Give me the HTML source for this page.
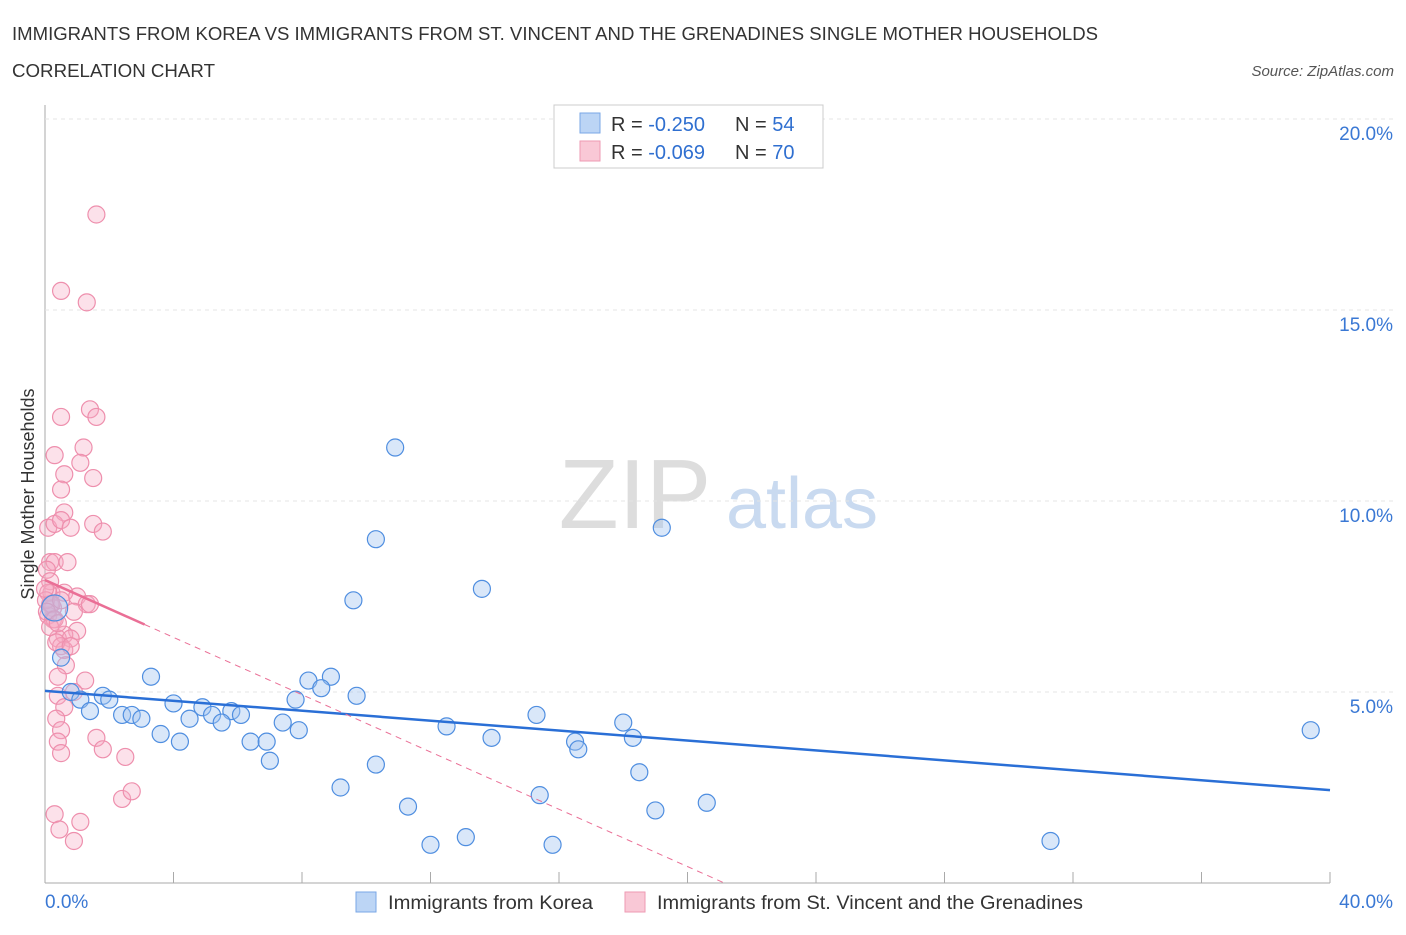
<!DOCTYPE html>
<html><head><meta charset="utf-8"><style>
body{margin:0;background:#fff;font-family:"Liberation Sans",sans-serif;}
svg text{font-family:"Liberation Sans",sans-serif;}
</style></head><body>
<svg id="chart" width="1406" height="930">
<text x="12" y="40" font-size="18" fill="#333" textLength="1086" lengthAdjust="spacingAndGlyphs">IMMIGRANTS FROM KOREA VS IMMIGRANTS FROM ST. VINCENT AND THE GRENADINES SINGLE MOTHER HOUSEHOLDS</text>
<text x="12" y="77" font-size="18" fill="#333" textLength="203" lengthAdjust="spacingAndGlyphs">CORRELATION CHART</text>
<text x="1394" y="76" font-size="15" font-style="italic" fill="#555" text-anchor="end">Source: ZipAtlas.com</text>
<text x="635" y="528" font-size="98" font-family="Liberation Serif" fill="#ddd" text-anchor="middle">ZIP</text>
<text x="802" y="528" font-size="72" fill="#c9daf0" text-anchor="middle">atlas</text>
<g id="grid"></g>
<g id="marks"></g>
<text transform="translate(34,494) rotate(-90)" font-size="18" fill="#333" text-anchor="middle">Single Mother Households</text>
<g>
<rect x="554" y="105" width="269" height="63" fill="#fff" stroke="#ccc"/>
<rect x="580" y="113" width="20" height="20" fill="#bcd5f5" stroke="#7aa7e6"/>
<rect x="580" y="141" width="20" height="20" fill="#f9c8d6" stroke="#ee9ab3"/>
<text x="611" y="131" font-size="20" fill="#333">R = <tspan fill="#2f6fd0">-0.250</tspan></text>
<text x="735" y="131" font-size="20" fill="#333">N = <tspan fill="#2f6fd0">54</tspan></text>
<text x="611" y="159" font-size="20" fill="#333">R = <tspan fill="#2f6fd0">-0.069</tspan></text>
<text x="735" y="159" font-size="20" fill="#333">N = <tspan fill="#2f6fd0">70</tspan></text>
</g>
<g>
<rect x="356" y="892" width="20" height="20" fill="#bcd5f5" stroke="#7aa7e6"/>
<text x="388" y="909" font-size="19" fill="#333" textLength="205" lengthAdjust="spacingAndGlyphs">Immigrants from Korea</text>
<rect x="625" y="892" width="20" height="20" fill="#f9c8d6" stroke="#ee9ab3"/>
<text x="657" y="909" font-size="19" fill="#333" textLength="426" lengthAdjust="spacingAndGlyphs">Immigrants from St. Vincent and the Grenadines</text>
</g>
</svg>
<script>
const xTicks=[0,40];
const yTicks=[5,10,15,20];
const koreaX=[10.9,10.3,19.2,9.6,13.6,3.3,8.2,8.9,8.6,9.7,7.8,1.8,2.0,0.8,1.1,1.4,4.0,4.9,5.8,2.4,2.7,3.0,4.5,5.2,5.5,6.1,7.4,7.9,3.6,4.2,6.4,6.9,12.5,15.3,18.0,13.9,16.5,16.6,18.3,7.0,10.3,18.5,9.2,15.4,11.3,20.6,19.0,12.0,13.1,15.8,31.3,39.4,0.3,0.5];
const koreaY=[11.4,9.0,9.3,7.4,7.7,5.4,5.3,5.4,5.1,4.9,4.8,4.9,4.8,5.0,4.8,4.5,4.7,4.6,4.5,4.4,4.4,4.3,4.3,4.4,4.2,4.4,4.2,4.0,3.9,3.7,3.7,3.7,4.1,4.4,4.2,3.8,3.7,3.5,3.8,3.2,3.1,2.9,2.5,2.3,2.0,2.1,1.9,1.0,1.2,1.0,1.1,4.0,7.2,5.9];
const vincentX=[1.6,0.5,1.3,1.4,1.6,0.5,1.2,0.3,1.1,0.6,1.5,0.5,0.6,0.1,0.3,0.5,1.5,0.8,1.8,0.16,0.3,0.7,0.06,0.16,0.2,0.6,1.0,1.3,1.4,0.16,0.25,0.9,0.1,0.25,1.0,0.6,0.4,0.8,0.5,0.6,0.65,0.4,1.25,0.9,0.4,0.6,0.35,0.5,0.4,1.6,1.8,2.5,0.5,2.4,2.7,0.3,1.1,0.45,0.9,0.1,0.03,0.2,0.06,0.3,0.16,0,0.5,0.4,0.35,0.8];
const vincentY=[17.5,15.5,15.2,12.4,12.2,12.2,11.4,11.2,11.0,10.7,10.6,10.3,9.7,9.3,9.4,9.5,9.4,9.3,9.2,8.4,8.4,8.4,8.2,7.9,7.6,7.6,7.5,7.3,7.3,7.3,7.2,7.1,7.0,6.9,6.6,6.5,6.4,6.4,6.2,6.1,5.7,5.4,5.3,5.0,4.9,4.6,4.3,4.0,3.7,3.8,3.5,3.3,3.4,2.2,2.4,1.8,1.6,1.4,1.1,7.6,7.4,7.3,7.1,6.9,6.7,7.7,7.4,6.8,6.3,6.2];
const koreaFit=[5.03,-0.065];
const vincentFit=[7.93,-0.375];
const NS='http://www.w3.org/2000/svg';
const X=v=>45+v/40*1285, Y=v=>883-v/5*191;
function mk(t,a,p){const e=document.createElementNS(NS,t);for(const k in a)e.setAttribute(k,a[k]);document.getElementById(p).appendChild(e);return e;}
mk('line',{x1:45,y1:105,x2:45,y2:883,stroke:'#aaa'},'grid');
mk('line',{x1:45,y1:883,x2:1330,y2:883,stroke:'#aaa'},'grid');
for(let i=1;i<=10;i++){mk('line',{x1:45+i*128.5,y1:883,x2:45+i*128.5,y2:872,stroke:'#aaa'},'grid');}
yTicks.forEach(v=>{
const l=mk('line',{x1:45,y1:Y(v),x2:1394,y2:Y(v),stroke:'#e4e4e4','stroke-dasharray':'4,4'},'grid');


const t=mk('text',{x:1393,y:Y(v)+21,'font-size':19,fill:'#3a78d4','text-anchor':'end'},'grid');t.textContent=v.toFixed(1)+'%';


});
xTicks.forEach((v,i)=>{const t=mk('text',{x:i?1393:45,y:908,'font-size':19,fill:'#3a78d4','text-anchor':i?'end':'start'},'grid');t.textContent=v.toFixed(1)+'%';

});
vincentX.forEach((x,i)=>{const c=mk('circle',{cx:X(x),cy:Y(vincentY[i]),r:8.5,fill:'rgba(246,170,195,0.35)',stroke:'#ee8fad','stroke-width':1.2},'marks');

});
koreaX.forEach((x,i)=>{const c=mk('circle',{cx:X(x),cy:Y(koreaY[i]),r:i==52?13:8.5,fill:'rgba(160,195,240,0.4)',stroke:'#4f8ee0','stroke-width':1.2},'marks');

});
let l=mk('line',{x1:X(0),y1:Y(koreaFit[0]),x2:X(40),y2:Y(koreaFit[0]+koreaFit[1]*40),stroke:'#2a6fd6','stroke-width':2.5},'marks');


const xz=-vincentFit[0]/vincentFit[1];
l=mk('line',{x1:X(3.1),y1:Y(vincentFit[0]+vincentFit[1]*3.1),x2:X(xz),y2:Y(0),stroke:'#ea6f96','stroke-width':1,'stroke-dasharray':'6,5'},'marks');


l=mk('line',{x1:X(0),y1:Y(vincentFit[0]),x2:X(3.1),y2:Y(vincentFit[0]+vincentFit[1]*3.1),stroke:'#ea6f96','stroke-width':2.5},'marks');


</script>
</body></html>
